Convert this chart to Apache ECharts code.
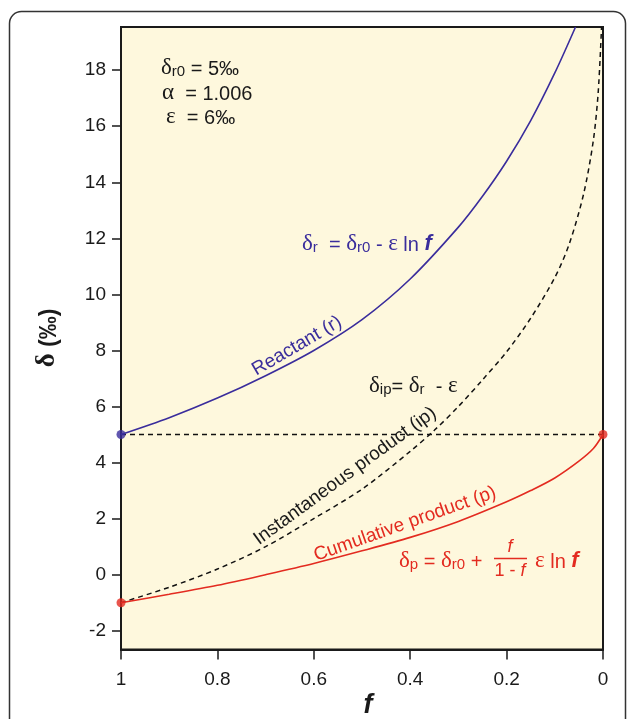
<!DOCTYPE html>
<html>
<head>
<meta charset="utf-8">
<script src="https://cdn.jsdelivr.net/npm/echarts@6/dist/echarts.min.js"></script>
<style>
html,body{margin:0;padding:0;background:#fff;}
#chart{width:629px;height:719px;}
</style>
</head>
<body>
<div id="chart"></div>
<script>
// ---- data ----
const reactantF = [1, 0.9, 0.8, 0.7, 0.6, 0.5, 0.4, 0.3, 0.25, 0.2, 0.15, 0.1, 0.057];
const reactantD = [5.0, 5.6, 6.3, 7.1, 8.0, 9.1, 10.55, 12.4, 13.5, 14.75, 16.2, 17.9, 19.54];

const instF = [1, 0.9, 0.8, 0.7, 0.6, 0.5, 0.4, 0.35, 0.3, 0.25, 0.2, 0.15, 0.1, 0.07, 0.04, 0.02, 0.01, 0.003];
const instD = [-1.0, -0.45, 0.2, 1.0, 2.0, 3.05, 4.4, 5.15, 6.0, 6.95, 7.95, 9.15, 10.6, 11.8, 13.6, 15.5, 17.2, 19.54];

const cumF = [1, 0.9, 0.8, 0.7, 0.6, 0.5, 0.4, 0.3, 0.2, 0.15, 0.1, 0.05, 0.02, 0];
const cumD = [-1.0, -0.7, -0.38, 0.0, 0.4, 0.85, 1.33, 1.9, 2.6, 3.0, 3.45, 4.05, 4.5, 5.0];

const refF = [1, 0];
const refD = [5, 5];

const blueDotF = [1];
const blueDotD = [5];
const redDotF = [1, 0];
const redDotD = [-1, 5];

const yTicks = [-2, 0, 2, 4, 6, 8, 10, 12, 14, 16, 18];
const xTicks = [1, 0.8, 0.6, 0.4, 0.2, 0];

const yMin = -2.67, yMax = 19.54;

// ---- styling ----
const PURPLE = '#3a2d9c';
const RED = '#e32b20';
const INK = '#1a1a1a';
const FONT = '"Liberation Sans", Arial, Helvetica, sans-serif';
const SERIF = '"Liberation Serif", "DejaVu Serif", serif';

function pairs(xs, ys) { return xs.map((x, i) => [x, ys[i]]); }

const rich = (color) => ({
  n: { fontFamily: FONT, fontSize: 20, fill: color, lineHeight: 24, verticalAlign: 'bottom' },
  g: { fontFamily: SERIF, fontSize: 23, fill: color, lineHeight: 24, verticalAlign: 'bottom' },
  s: { fontFamily: FONT, fontSize: 15, fill: color, lineHeight: 10, verticalAlign: 'bottom' },
  fi: { fontFamily: FONT, fontSize: 22, fontStyle: 'italic', fontWeight: 'bold', fill: color, lineHeight: 24, verticalAlign: 'bottom' }
});

const chart = echarts.init(document.getElementById('chart'), null, { renderer: 'canvas' });

const option = {
  animation: false,
  backgroundColor: '#ffffff',
  grid: {
    left: 121, right: 26, top: 27, bottom: 69.5,
    show: true, backgroundColor: '#fef8dd', borderColor: INK, borderWidth: 2
  },
  xAxis: {
    type: 'value', inverse: true, min: 0, max: 1, interval: 0.2,
    axisLine: { show: true, onZero: false, lineStyle: { color: INK, width: 2 } },
    axisTick: { show: true, inside: false, length: 10, lineStyle: { color: INK, width: 1.5 }, customValues: xTicks },
    axisLabel: { show: true, color: INK, fontSize: 19, fontFamily: FONT, margin: 21, customValues: xTicks },
    splitLine: { show: false }
  },
  yAxis: {
    type: 'value', min: yMin, max: yMax, position: 'left',
    axisLine: { show: true, onZero: false, lineStyle: { color: INK, width: 2 } },
    axisTick: { show: true, inside: false, length: 9, lineStyle: { color: INK, width: 1.5 }, customValues: yTicks },
    axisLabel: { show: true, color: INK, fontSize: 19, fontFamily: FONT, margin: 15, customValues: yTicks },
    splitLine: { show: false }
  },
  series: [
    {
      name: 'ref', type: 'line', data: pairs(refF, refD), symbol: 'none',
      lineStyle: { color: '#111', width: 1.5, type: [5, 4] }, z: 2
    },
    {
      name: 'Reactant (r)', type: 'line', data: pairs(reactantF, reactantD), symbol: 'none',
      smooth: 0.3, lineStyle: { color: PURPLE, width: 1.6 }, z: 3
    },
    {
      name: 'Instantaneous product (ip)', type: 'line', data: pairs(instF, instD), symbol: 'none',
      smooth: 0.3, lineStyle: { color: '#111', width: 1.5, type: [5, 4] }, z: 3
    },
    {
      name: 'Cumulative product (p)', type: 'line', data: pairs(cumF, cumD), symbol: 'none',
      smooth: 0.3, lineStyle: { color: RED, width: 1.6 }, z: 3
    },
    {
      name: 'blueDot', type: 'scatter', data: pairs(blueDotF, blueDotD), symbol: 'circle', symbolSize: 9,
      itemStyle: { color: PURPLE }, z: 5, clip: false
    },
    {
      name: 'redDot', type: 'scatter', data: pairs(redDotF, redDotD), symbol: 'circle', symbolSize: 9,
      itemStyle: { color: RED }, z: 5, clip: false
    }
  ],
  graphic: [
    // outer rounded frame
    { type: 'rect', z: -1, silent: true,
      shape: { x: 9.5, y: 11.5, width: 616, height: 780, r: 12 },
      style: { fill: 'none', stroke: '#333', lineWidth: 1.5 } },
    // y axis title
    { type: 'text', x: 47, y: 338, rotation: Math.PI / 2,
      style: { text: '{g|δ}{b| (‰)}', align: 'center', verticalAlign: 'middle',
        rich: {
          g: { fontFamily: SERIF, fontSize: 27, fontWeight: 'bold', fill: INK, lineHeight: 28, verticalAlign: 'bottom' },
          b: { fontFamily: FONT, fontSize: 23, fontWeight: 'bold', fill: INK, lineHeight: 28, verticalAlign: 'bottom' }
        } } },
    // x axis title
    { type: 'text', x: 368, y: 706,
      style: { text: 'f', font: 'italic bold 27px ' + FONT, fill: INK, align: 'center', verticalAlign: 'middle' } },
    // parameters
    { type: 'text', x: 161, y: 67,
      style: { text: '{g|δ}{s|r0}{n| = 5‰}', rich: rich(INK), align: 'left', verticalAlign: 'middle' } },
    { type: 'text', x: 162, y: 92,
      style: { text: '{g|α}{n|  = 1.006}', rich: rich(INK), align: 'left', verticalAlign: 'middle' } },
    { type: 'text', x: 166, y: 116,
      style: { text: '{g|ε}{n|  = 6‰}', rich: rich(INK), align: 'left', verticalAlign: 'middle' } },
    // purple formula
    { type: 'text', x: 302, y: 243,
      style: { text: '{g|δ}{s|r}{n|  = }{g|δ}{s|r0}{n| - }{g|ε}{n| ln }{fi|f}', rich: rich(PURPLE), align: 'left', verticalAlign: 'middle' } },
    // black formula
    { type: 'text', x: 369, y: 385,
      style: { text: '{g|δ}{s|ip}{n|= }{g|δ}{s|r}{n|  - }{g|ε}', rich: rich(INK), align: 'left', verticalAlign: 'middle' } },
    // red formula
    { type: 'text', x: 399, y: 560,
      style: { text: '{g|δ}{s|p}{n| = }{g|δ}{s|r0}{n| +}', rich: rich(RED), align: 'left', verticalAlign: 'middle' } },
    { type: 'text', x: 510, y: 547,
      style: { text: 'f', font: 'italic 18px ' + FONT, fill: RED, align: 'center', verticalAlign: 'middle' } },
    { type: 'line', shape: { x1: 494, y1: 558.5, x2: 527, y2: 558.5 }, style: { stroke: RED, lineWidth: 1.3 } },
    { type: 'text', x: 510, y: 571,
      style: { text: '1 - {i|f}', font: '18px ' + FONT, fill: RED, align: 'center', verticalAlign: 'middle',
        rich: { i: { fontStyle: 'italic', fontSize: 18, fontFamily: FONT, fill: RED } } } },
    { type: 'text', x: 535, y: 560,
      style: { text: '{g|ε}{n| ln }{fi|f}', rich: rich(RED), align: 'left', verticalAlign: 'middle' } },
    // rotated curve labels
    { type: 'text', x: 297, y: 346, rotation: 0.53,
      style: { text: 'Reactant (r)', font: '19px ' + FONT, fill: PURPLE, align: 'center', verticalAlign: 'middle' } },
    { type: 'text', x: 345, y: 476, rotation: 0.63,
      style: { text: 'Instantaneous product (ip)', font: '19px ' + FONT, fill: INK, align: 'center', verticalAlign: 'middle' } },
    { type: 'text', x: 405, y: 524, rotation: 0.34,
      style: { text: 'Cumulative product (p)', font: '19px ' + FONT, fill: RED, align: 'center', verticalAlign: 'middle' } }
  ]
};

chart.setOption(option);
</script>
</body>
</html>
